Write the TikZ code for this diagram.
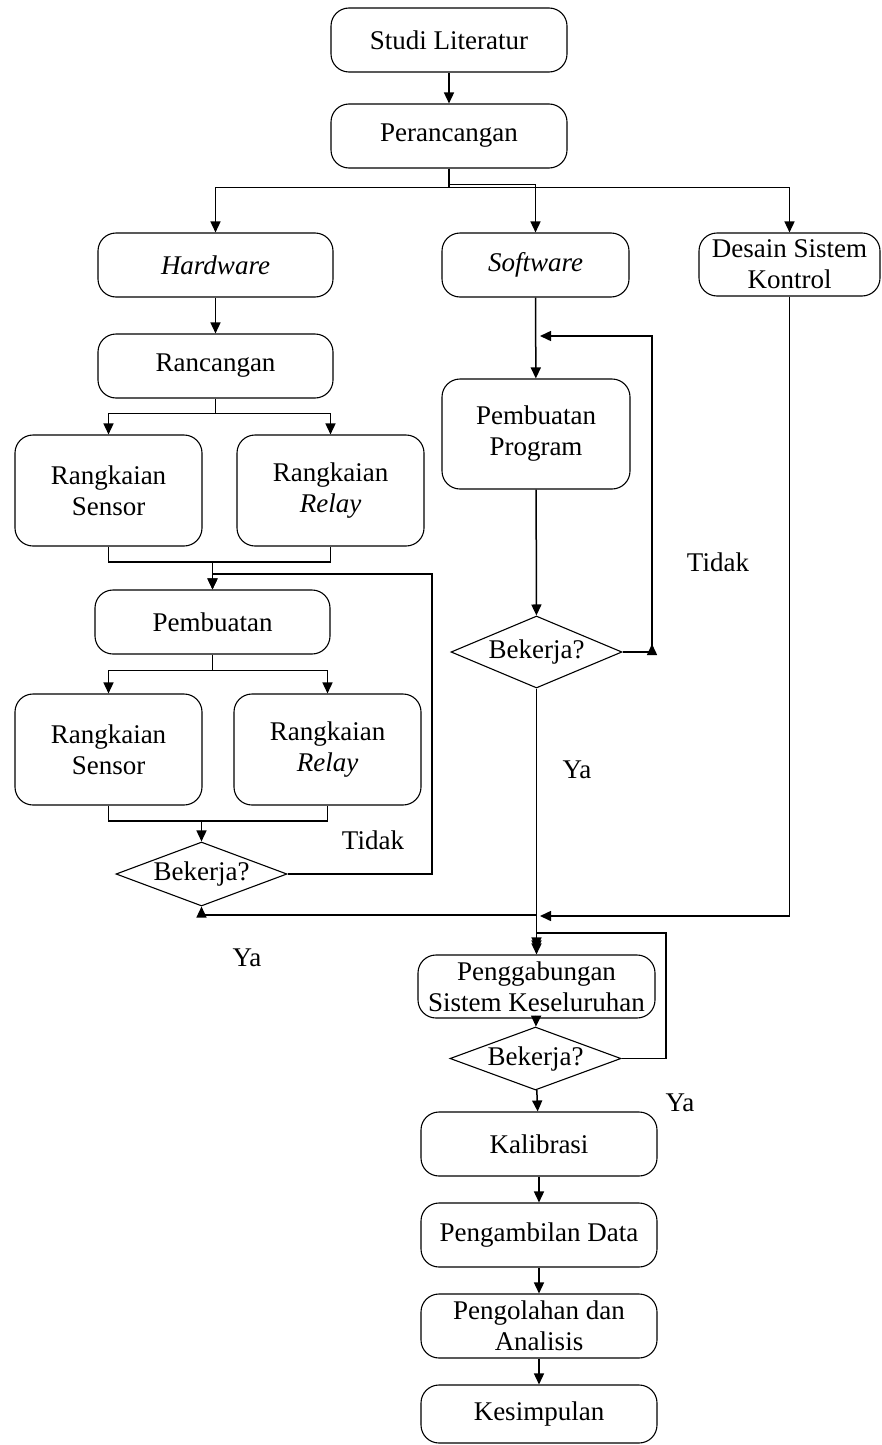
\documentclass[tikz,border=0pt]{standalone}
\usepackage{fontspec}
\setmainfont{Liberation Serif}
\usetikzlibrary{arrows.meta, positioning, shapes.geometric}
\tikzset{
  box/.style={
    rectangle, rounded corners=18pt, draw, line width=1.1pt,
    minimum width=#1, minimum height=64pt,
    align=center, inner sep=2pt
  },
  box/.default=236pt,
  tallbox/.style={box=187pt, minimum height=111pt},
  cond/.style={
    diamond, draw, line width=1.1pt, aspect=2.67,
    minimum width=171pt, minimum height=64pt, inner sep=0pt
  },
  arr/.style={-{Triangle[length=11pt, width=10pt]}, line width=1.5pt},
  ln/.style={line width=1.5pt},
}

\begin{document}
\begin{tikzpicture}[x=1pt, y=-1pt, font=\fontsize{27}{31}\selectfont]
\useasboundingbox (0,0) rectangle (881,1445);

% top
\node[box] at (449,40) (studi) {Studi Literatur};
\node[box] at (449,136) (peran) {Perancangan};

% three branches
\node[box=235pt] at (215.5,265) (hw) {\textit{Hardware}};
\node[box=187pt] at (535.5,265) (sw) {\textit{Software}};
\node[box=181pt, minimum height=63pt, inner sep=1pt] at (789.5,264.5) (dsk) {Desain Sistem\\Kontrol};

% hardware
\node[box=235pt] at (215.5,366) (ranc) {Rancangan};
\node[tallbox] at (108.5,490.5) (rs1) {Rangkaian\\Sensor};
\node[tallbox] at (330.5,490.5) (rr1) {Rangkaian\\\textit{Relay}};
\node[box=235pt] at (212.5,622) (pemb) {Pembuatan};
\node[tallbox] at (108.5,749.5) (rs2) {Rangkaian\\Sensor};
\node[tallbox] at (327.5,749.5) (rr2) {Rangkaian\\\textit{Relay}};
\node[cond] at (201.5,874) (bk1) {Bekerja?};

% software
\node[box=188pt, minimum height=110pt] at (536,434) (prog) {Pembuatan\\Program};
\node[cond, minimum height=72pt] at (536.5,652) (bk2) {Bekerja?};

% integration and after
\node[box=237pt, minimum height=63pt] at (536.5,986.5) (gab) {Penggabungan\\Sistem Keseluruhan};
\node[cond, minimum height=63pt] at (535.5,1058.5) (bk3) {Bekerja?};
\node[box] at (539,1144) (kal) {Kalibrasi};
\node[box] at (539,1235) (data) {Pengambilan Data};
\node[box] at (539,1326) (olah) {Pengolahan dan\\Analisis};
\node[box, minimum height=58pt] at (539,1414) (kes) {Kesimpulan};

% labels
\node at (373,840) (no1) {Tidak};
\node at (718,562) (no2) {Tidak};
\node at (577,770) (yes2) {Ya};
\node at (247,958) (yes1) {Ya};
\node at (680,1103) (yes3) {Ya};

% bends
\coordinate (j1) at (212.5,562);
\coordinate (t1) at (432,574);
\coordinate (j2) at (201.5,821);
\coordinate (j3) at (201.5,915);
\coordinate (t2) at (652,652);
\coordinate (t2a) at (540,336);
\coordinate (m1) at (540,916);
\coordinate (t3) at (666,933);

\draw[arr] (studi) -- (peran);
\draw[arr] (peran.south) -- ++(0,19) -| (hw.north);
\draw[arr] (peran.south) -- ++(0,16) -| (sw.north);
\draw[arr] (peran.south) -- ++(0,19) -| (dsk.north);

\draw[arr] (hw) -- (ranc);
\draw[arr] (ranc.south) -- ++(0,15) -| (rs1.north);
\draw[arr] (ranc.south) -- ++(0,15) -| (rr1.north);
\draw[ln] (rs1.south) |- (j1) -| (rr1.south);
\draw[arr] (j1) -- (pemb.north);
\draw[arr] (bk1.east) -| (t1) -| (pemb.north);
\draw[arr] (pemb.south) -- ++(0,16) -| (rs2.north);
\draw[arr] (pemb.south) -- ++(0,16) -| (rr2.north);
\draw[ln] (rs2.south) |- (j2) -| (rr2.south);
\draw[arr] (j2) -- (bk1.north);
\draw[arr] (j3) -- (bk1.south);
\draw[arr, shorten >=6pt] (j3) -| (gab.north);

\draw[arr] (sw) -- (prog);
\draw[arr] (prog) -- (bk2);
\draw[ln] (bk2.east) -- (t2);
\draw[arr] (t2) -- ++(0,-8);
\draw[arr] (t2) |- (t2a);
\draw[arr, shorten >=3pt] (bk2.south) -- (gab.north);

\draw[arr] (dsk.south) |- (m1);
\draw[arr] (bk3.east) -| (t3) -| (gab.north);
\draw[arr] (gab) -- (bk3);
\draw[arr] (bk3) -- (kal);
\draw[arr] (kal) -- (data);
\draw[arr] (data) -- (olah);
\draw[arr] (olah) -- (kes);

\end{tikzpicture}
\end{document}
